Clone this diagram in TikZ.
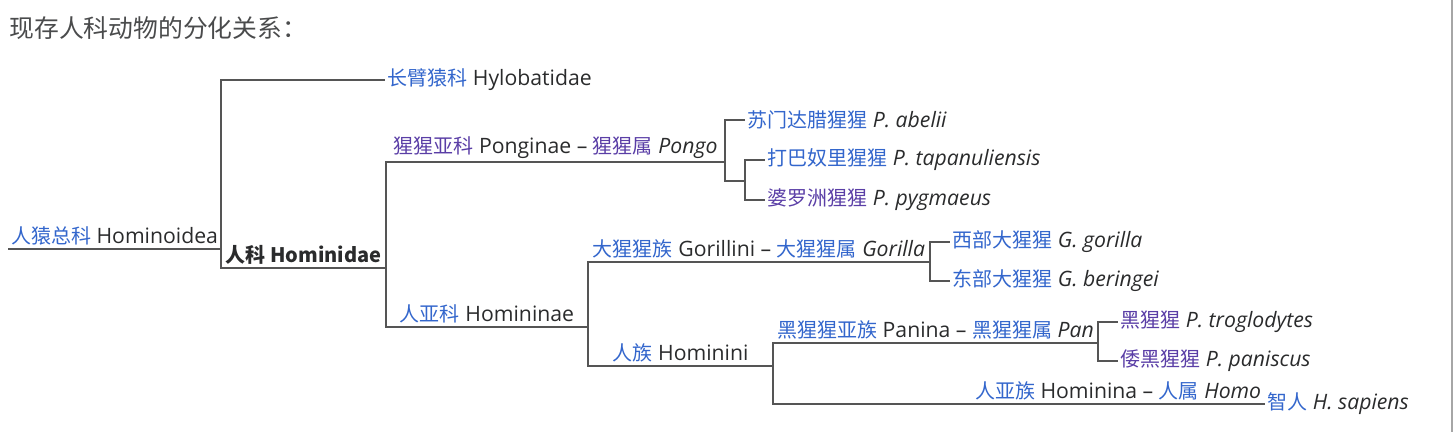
\documentclass[tikz,border=0pt]{standalone}
\usepackage{fontspec}
\setmainfont{Open Sans}[Scale=1.06]
\newfontfamily\cjk{Noto Sans CJK SC}

\definecolor{linkblue}{HTML}{3366CC}
\definecolor{visited}{HTML}{5A3EA6}
\definecolor{txt}{HTML}{2A2B2C}
\definecolor{branchgray}{HTML}{555555}

\newcommand{\zh}[1]{{\cjk\color{linkblue}#1}}
\newcommand{\zv}[1]{{\cjk\color{visited}#1}}

\tikzset{
  branch/.style={draw=branchgray, line width=0.9pt},
  leaf/.style={anchor=west, inner sep=1pt, text=txt, font=\fontsize{10}{12}\selectfont},
  lab/.style={above, inner sep=1.5pt, text=txt, font=\fontsize{10}{12}\selectfont},
}

\begin{document}
\begin{tikzpicture}[x=0.5pt, y=-0.5pt]
    \useasboundingbox (0,0) rectangle (1453,432);

    \node (title) [anchor=west, inner sep=0pt, text=txt!85, font=\fontsize{12.4}{14}\selectfont] at (9,28) {\cjk 现存人科动物的分化关系：};

    % split points
    \coordinate (root) at (8,249);
    \coordinate (hominoidea) at (221,249);
    \coordinate (hominidae) at (386,268);
    \coordinate (pongo) at (725,162);
    \coordinate (pongosub) at (745,181);
    \coordinate (homininae) at (588,327);
    \coordinate (gorilla) at (930,262);
    \coordinate (hominini) at (773,366);
    \coordinate (pan) at (1098,343);

    % leaves
    \node (hylo) [leaf] at (385,80) {\zh{长臂猿科} Hylobatidae};
    \node (abelii) [leaf] at (745,120) {\zh{苏门达腊猩猩} \textit{P. abelii}};
    \node (tapa) [leaf] at (765,160) {\zh{打巴奴里猩猩} \textit{P. tapanuliensis}};
    \node (pygm) [leaf] at (765,200) {\zv{婆罗洲猩猩} \textit{P. pygmaeus}};
    \node (ggor) [leaf] at (950,242) {\zh{西部大猩猩} \textit{G. gorilla}};
    \node (gber) [leaf] at (950,281) {\zh{东部大猩猩} \textit{G. beringei}};
    \node (trog) [leaf] at (1118,322) {\zv{黑猩猩} \textit{P. troglodytes}};
    \node (panis) [leaf] at (1118,361) {\zv{倭黑猩猩} \textit{P. paniscus}};
    \node (sapiens) [leaf] at (1265,404) {\zh{智人} \textit{H. sapiens}};

    \draw[branch] (root) -- node[lab] {\zh{人猿总科} Hominoidea} (hominoidea);
    \draw[branch] (hominoidea) |- (hylo.west);
    \draw[branch] (hominoidea) |- node[lab, pos=.75] {\cjk\bfseries 人科 \textbf{Hominidae}} (hominidae);

    \draw[branch] (hominidae) |- node[lab, pos=.75] {\zv{猩猩亚科} Ponginae – \zv{猩猩属} \textit{Pongo}} (pongo);
    \draw[branch] (pongo) |- (abelii.west);
    \draw[branch] (pongo) |- (pongosub);
    \draw[branch] (pongosub) |- (tapa.west);
    \draw[branch] (pongosub) |- (pygm.west);

    \draw[branch] (hominidae) |- node[lab, pos=.75] {\zh{人亚科} Homininae} (homininae);
    \draw[branch] (homininae) |- node[lab, pos=.75] {\zh{大猩猩族} Gorillini – \zh{大猩猩属} \textit{Gorilla}} (gorilla);
    \draw[branch] (gorilla) |- (ggor.west);
    \draw[branch] (gorilla) |- (gber.west);

    \draw[branch] (homininae) |- node[lab, pos=.75] {\zh{人族} Hominini} (hominini);
    \draw[branch] (hominini) |- node[lab, pos=.75] {\zh{黑猩猩亚族} Panina – \zh{黑猩猩属} \textit{Pan}} (pan);
    \draw[branch] (pan) |- (trog.west);
    \draw[branch] (pan) |- (panis.west);
    \draw[branch] (hominini) |- node[lab, pos=1, anchor=south east] {\zh{人亚族} Hominina – \zh{人属} \textit{Homo}} (sapiens.west);

    % right frame edge
    \draw[draw=gray!70, line width=1pt] (1452,0) -- (1452,432);
\end{tikzpicture}
\end{document}
